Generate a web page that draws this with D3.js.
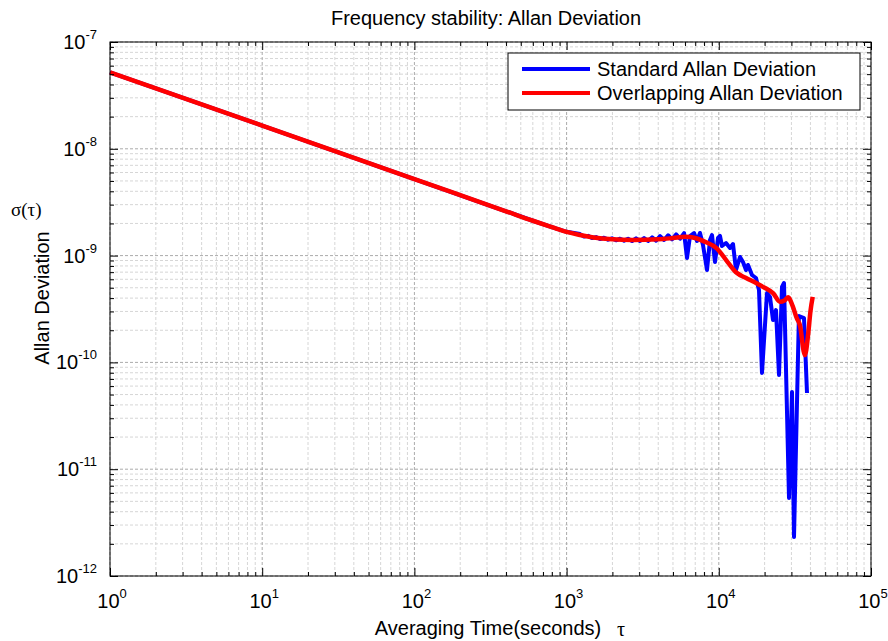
<!DOCTYPE html>
<html>
<head>
<meta charset="utf-8">
<script src="https://cdn.jsdelivr.net/npm/d3@7"></script>
<style>
  body { margin: 0; background: #fff; }
  svg { font-family: "Liberation Sans", Arial, sans-serif; }
</style>
</head>
<body>
<svg width="888" height="641"></svg>
<script>
// decades on the axes
var xDecades = [1, 10, 100, 1e3, 1e4, 1e5];
var xExps = ["0", "1", "2", "3", "4", "5"];
var yDecades = [1e-12, 1e-11, 1e-10, 1e-9, 1e-8, 1e-7];
var yExps = ["-12", "-11", "-10", "-9", "-8", "-7"];

// overlapping Allan deviation (red)
var oadevTau = [1, 10, 100, 400, 600, 800, 1000, 1200, 1500, 2000, 2700, 4000, 5000, 6000,
  7000, 8000, 9700, 11500, 13100, 15000, 17700, 20000, 22800, 25200, 27000, 28600, 30500,
  32500, 34300, 36000, 36800, 38700, 40000, 41400];
var oadevSig = [5.2e-8, 1.65e-8, 5.2e-9, 2.6e-9, 2.12e-9, 1.85e-9, 1.67e-9, 1.57e-9, 1.48e-9,
  1.42e-9, 1.40e-9, 1.42e-9, 1.46e-9, 1.5e-9, 1.46e-9, 1.36e-9, 1.17e-9, 8.6e-10, 6.9e-10,
  6.2e-10, 5.5e-10, 5.0e-10, 4.43e-10, 3.7e-10, 3.8e-10, 4.07e-10, 3.4e-10, 2.6e-10,
  2.16e-10, 1.3e-10, 1.17e-10, 1.87e-10, 3.0e-10, 4.1e-10];

// standard Allan deviation (blue)
var adevTau = [1, 10, 100, 400, 600, 800, 1000, 1225, 1301, 1383, 1469, 1561, 1658, 1762,
  1872, 1989, 2113, 2245, 2385, 2534, 2692, 2860, 3039, 3229, 3430, 3645, 3872, 4114, 4371,
  4644, 4933, 5241, 5568, 5916, 6183, 6469, 6873, 7192, 7524, 7874, 8365, 8753, 9021, 9441,
  9879, 10180, 10496, 11150, 11847, 12397, 12972, 13783, 14421, 15091, 15556, 16524, 17555,
  18370, 19220, 20736, 21698, 22705, 23760, 24862, 26013, 26815, 28924, 30265, 31200, 33600,
  36290, 37975];
var adevSig = [5.2e-8, 1.65e-8, 5.2e-9, 2.6e-9, 2.12e-9, 1.85e-9, 1.67e-9, 1.59e-9, 1.51e-9,
  1.53e-9, 1.46e-9, 1.49e-9, 1.43e-9, 1.47e-9, 1.41e-9, 1.45e-9, 1.39e-9, 1.44e-9, 1.38e-9,
  1.44e-9, 1.37e-9, 1.45e-9, 1.37e-9, 1.46e-9, 1.37e-9, 1.48e-9, 1.38e-9, 1.52e-9, 1.40e-9,
  1.55e-9, 1.42e-9, 1.58e-9, 1.44e-9, 1.62e-9, 9.49e-10, 1.526e-9, 1.628e-9, 1.37e-9,
  1.628e-9, 1.257e-9, 7.33e-10, 1.40e-9, 1.559e-9, 8.71e-10, 1.462e-9, 1.526e-9, 1.23e-9,
  1.312e-9, 1.178e-9, 1.284e-9, 7.33e-10, 9.7e-10, 8.71e-10, 7.33e-10, 8.17e-10, 6.58e-10,
  6.17e-10, 4.76e-10, 7.96e-11, 4.46e-10, 4.10e-10, 2.49e-10, 3.09e-10, 7.62e-11, 5.08e-10,
  5.54e-10, 5.37e-12, 5.28e-11, 2.32e-12, 2.72e-10, 2.60e-10, 5.17e-11];

var seriesNames = ["Standard Allan Deviation", "Overlapping Allan Deviation"];
var seriesColors = ["#0000ff", "#ff0000"];

var svg = d3.select("svg"),
    margin = {top: 42, right: 17, bottom: 65, left: 110},
    width = 888 - margin.left - margin.right,
    height = 641 - margin.top - margin.bottom;

var g = svg.append("g")
    .attr("transform", "translate(" + margin.left + "," + margin.top + ")");

var x = d3.scaleLog().domain([1, 1e5]).range([0, width]);
var y = d3.scaleLog().domain([1e-12, 1e-7]).range([height, 0]);

// minor tick values 2..9 per decade
var xMinor = [];
xDecades.slice(0, -1).forEach(function(d) { for (var k = 2; k < 10; k++) xMinor.push(d * k); });
var yMinor = [];
yDecades.slice(0, -1).forEach(function(d) { for (var k = 2; k < 10; k++) yMinor.push(d * k); });

// grid
g.selectAll(".xgrid-minor").data(xMinor).enter().append("line")
  .attr("x1", function(d) { return x(d); }).attr("x2", function(d) { return x(d); })
  .attr("y1", 0).attr("y2", height)
  .attr("stroke", "#d6d6d6").attr("stroke-dasharray", "3,2");
g.selectAll(".ygrid-minor").data(yMinor).enter().append("line")
  .attr("y1", function(d) { return y(d); }).attr("y2", function(d) { return y(d); })
  .attr("x1", 0).attr("x2", width)
  .attr("stroke", "#d6d6d6").attr("stroke-dasharray", "3,2");
g.selectAll(".xgrid").data(xDecades).enter().append("line")
  .attr("x1", function(d) { return x(d); }).attr("x2", function(d) { return x(d); })
  .attr("y1", 0).attr("y2", height)
  .attr("stroke", "#ababab").attr("stroke-dasharray", "3,2");
g.selectAll(".ygrid").data(yDecades).enter().append("line")
  .attr("y1", function(d) { return y(d); }).attr("y2", function(d) { return y(d); })
  .attr("x1", 0).attr("x2", width)
  .attr("stroke", "#ababab").attr("stroke-dasharray", "3,2");

// series
var line = d3.line()
  .x(function(d) { return x(d[0]); })
  .y(function(d) { return y(d[1]); });

g.append("path")
  .datum(d3.zip(adevTau, adevSig))
  .attr("fill", "none").attr("stroke", seriesColors[0])
  .attr("stroke-width", 4).attr("stroke-linejoin", "round")
  .attr("d", line);
g.append("path")
  .datum(d3.zip(oadevTau, oadevSig))
  .attr("fill", "none").attr("stroke", seriesColors[1])
  .attr("stroke-width", 4.5).attr("stroke-linejoin", "round")
  .attr("d", line.curve(d3.curveMonotoneX));

// axes (ticks inward, all four sides)
function styleAxis(sel) {
  sel.select(".domain").remove();
  sel.selectAll(".tick line").attr("stroke", "#000");
  sel.selectAll(".tick text").remove();
}
g.append("g").attr("transform", "translate(0," + height + ")")
  .call(d3.axisBottom(x).tickValues(xDecades).tickSize(-8)).call(styleAxis);
g.append("g").attr("transform", "translate(0," + height + ")")
  .call(d3.axisBottom(x).tickValues(xMinor).tickSize(-4)).call(styleAxis);
g.append("g")
  .call(d3.axisTop(x).tickValues(xDecades).tickSize(-8)).call(styleAxis);
g.append("g")
  .call(d3.axisTop(x).tickValues(xMinor).tickSize(-4)).call(styleAxis);
g.append("g")
  .call(d3.axisLeft(y).tickValues(yDecades).tickSize(-8)).call(styleAxis);
g.append("g")
  .call(d3.axisLeft(y).tickValues(yMinor).tickSize(-4)).call(styleAxis);
g.append("g").attr("transform", "translate(" + width + ",0)")
  .call(d3.axisRight(y).tickValues(yDecades).tickSize(-8)).call(styleAxis);
g.append("g").attr("transform", "translate(" + width + ",0)")
  .call(d3.axisRight(y).tickValues(yMinor).tickSize(-4)).call(styleAxis);

g.append("rect")
  .attr("width", width).attr("height", height)
  .attr("fill", "none").attr("stroke", "#000").attr("stroke-width", 1);

// tick labels with superscript exponents
var xl = g.selectAll(".xlab").data(xDecades).enter().append("text")
  .attr("x", function(d) { return x(d) + 2; })
  .attr("y", height + 32)
  .attr("text-anchor", "middle")
  .style("font-size", "20px");
xl.append("tspan").text("10");
xl.append("tspan").attr("dy", -10).style("font-size", "13px")
  .text(function(d, i) { return xExps[i]; });

var yl = g.selectAll(".ylab").data(yDecades).enter().append("text")
  .attr("x", -13)
  .attr("y", function(d) { return y(d) + 7; })
  .attr("text-anchor", "end")
  .style("font-size", "20px");
yl.append("tspan").text("10");
yl.append("tspan").attr("dy", -10).style("font-size", "13px")
  .text(function(d, i) { return yExps[i]; });

// titles
svg.append("text")
  .attr("x", 486).attr("y", 25)
  .attr("text-anchor", "middle").style("font-size", "20px")
  .text("Frequency stability: Allan Deviation");
svg.append("text")
  .attr("x", 488).attr("y", 635)
  .attr("text-anchor", "middle").style("font-size", "20px")
  .text("Averaging Time(seconds)");
svg.append("text")
  .attr("x", 621).attr("y", 636)
  .attr("text-anchor", "middle")
  .style("font-family", "'Liberation Serif', serif").style("font-size", "20px")
  .text("τ");
svg.append("text")
  .attr("transform", "translate(49,298) rotate(-90)")
  .attr("text-anchor", "middle").style("font-size", "20px")
  .text("Allan Deviation");
svg.append("text")
  .attr("x", 11).attr("y", 216)
  .style("font-family", "'Liberation Serif', serif").style("font-size", "19px")
  .text("σ(τ)");

// legend
var legend = svg.append("g").attr("transform", "translate(508,53)");
legend.append("rect")
  .attr("width", 352).attr("height", 57)
  .attr("fill", "#fff").attr("stroke", "#000");
seriesNames.forEach(function(name, i) {
  var ly = 16 + i * 24;
  legend.append("line")
    .attr("x1", 14).attr("x2", 82).attr("y1", ly).attr("y2", ly)
    .attr("stroke", seriesColors[i]).attr("stroke-width", 4);
  legend.append("text")
    .attr("x", 89).attr("y", ly + 7)
    .style("font-size", "20px")
    .text(name);
});
</script>
</body>
</html>
